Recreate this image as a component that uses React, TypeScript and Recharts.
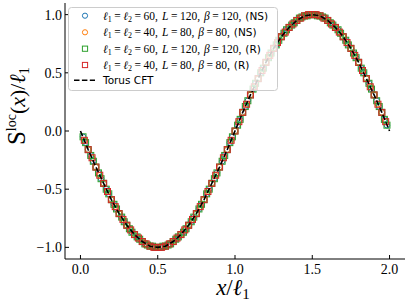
import React from "react";
import { ScatterChart, Scatter, XAxis, YAxis } from "recharts";

// axis ticks
const X_TICKS = [0, 0.5, 1, 1.5, 2];
const Y_TICKS = [-1, -0.5, 0, 0.5, 1];

// S^loc(x)/l1, site j = 1..2*l-1 (x/l1 = j/l)
const S_L60 = [
  -0.05, -0.1, -0.16, -0.21, -0.26, -0.31, -0.36, -0.41, -0.45, -0.5,
  -0.54, -0.59, -0.63, -0.67, -0.71, -0.74, -0.78, -0.81, -0.84, -0.87,
  -0.89, -0.91, -0.93, -0.95, -0.97, -0.98, -0.99, -0.99, -1.0, -1.0,
  -1.0, -0.99, -0.99, -0.98, -0.97, -0.95, -0.93, -0.91, -0.89, -0.87,
  -0.84, -0.81, -0.78, -0.74, -0.71, -0.67, -0.63, -0.59, -0.54, -0.5,
  -0.45, -0.41, -0.36, -0.31, -0.26, -0.21, -0.16, -0.1, -0.05, 0.0,
  0.05, 0.1, 0.16, 0.21, 0.26, 0.31, 0.36, 0.41, 0.45, 0.5,
  0.54, 0.59, 0.63, 0.67, 0.71, 0.74, 0.78, 0.81, 0.84, 0.87,
  0.89, 0.91, 0.93, 0.95, 0.97, 0.98, 0.99, 0.99, 1.0, 1.0,
  1.0, 0.99, 0.99, 0.98, 0.97, 0.95, 0.93, 0.91, 0.89, 0.87,
  0.84, 0.81, 0.78, 0.74, 0.71, 0.67, 0.63, 0.59, 0.54, 0.5,
  0.45, 0.41, 0.36, 0.31, 0.26, 0.21, 0.16, 0.1, 0.05,
];

const S_L40 = [
  -0.08, -0.16, -0.23, -0.31, -0.38, -0.45, -0.52, -0.59, -0.65, -0.71,
  -0.76, -0.81, -0.85, -0.89, -0.92, -0.95, -0.97, -0.99, -1.0, -1.0,
  -1.0, -0.99, -0.97, -0.95, -0.92, -0.89, -0.85, -0.81, -0.76, -0.71,
  -0.65, -0.59, -0.52, -0.45, -0.38, -0.31, -0.23, -0.16, -0.08, 0.0,
  0.08, 0.16, 0.23, 0.31, 0.38, 0.45, 0.52, 0.59, 0.65, 0.71,
  0.76, 0.81, 0.85, 0.89, 0.92, 0.95, 0.97, 0.99, 1.0, 1.0,
  1.0, 0.99, 0.97, 0.95, 0.92, 0.89, 0.85, 0.81, 0.76, 0.71,
  0.65, 0.59, 0.52, 0.45, 0.38, 0.31, 0.23, 0.16, 0.08,
];

// torus CFT curve
const CFT_X = [
  0, 0.05, 0.1, 0.15, 0.2, 0.25, 0.3, 0.35, 0.4, 0.45, 0.5, 0.55, 0.6, 0.65,
  0.7, 0.75, 0.8, 0.85, 0.9, 0.95, 1.0, 1.05, 1.1, 1.15, 1.2, 1.25, 1.3, 1.35,
  1.4, 1.45, 1.5, 1.55, 1.6, 1.65, 1.7, 1.75, 1.8, 1.85, 1.9, 1.95, 2.0,
];
const CFT_Y = [
  0, -0.16, -0.31, -0.45, -0.59, -0.71, -0.81, -0.89, -0.95, -0.99, -1.0,
  -0.99, -0.95, -0.89, -0.81, -0.71, -0.59, -0.45, -0.31, -0.16, 0, 0.16,
  0.31, 0.45, 0.59, 0.71, 0.81, 0.89, 0.95, 0.99, 1.0, 0.99, 0.95, 0.89,
  0.81, 0.71, 0.59, 0.45, 0.31, 0.16, 0,
];

const COLORS = ["#1f77b4", "#ff7f0e", "#2ca02c", "#d62728"];

const sites = (vals: number[], l: number) =>
  vals.map((y, i) => ({ x: (i + 1) / l, y }));

const ns60 = sites(S_L60, 60);
const ns40 = sites(S_L40, 40);
const r60 = sites(S_L60, 60);
const r40 = sites(S_L40, 40);
const cft = CFT_X.map((x, i) => ({ x, y: CFT_Y[i] }));

const fmt = (v: number) => (v < 0 ? "\u2212" + Math.abs(v).toFixed(1) : v.toFixed(1));

const circle = (color: string) => (p: any) =>
  <circle cx={p.cx} cy={p.cy} r={2.8} fill="none" stroke={color} strokeWidth={1} />;
const square = (color: string) => (p: any) =>
  <rect x={p.cx - 3} y={p.cy - 3} width={6} height={6} fill="none" stroke={color} strokeWidth={1} />;

const SERIF = "'Liberation Serif', 'DejaVu Serif', serif";
const SANS = "'DejaVu Sans', sans-serif";

const legendRows = [
  { l: "60", L: "120", b: "120", tag: "(NS)", mark: "c", color: COLORS[0] },
  { l: "40", L: "80", b: "80", tag: "(NS)", mark: "c", color: COLORS[1] },
  { l: "60", L: "120", b: "120", tag: "(R)", mark: "s", color: COLORS[2] },
  { l: "40", L: "80", b: "80", tag: "(R)", mark: "s", color: COLORS[3] },
];

// "=" with a bit more room, like TeX math spacing
const Eq = () => <tspan dx={2.5}>=</tspan>;

function Overlay() {
  const rowY = [15.7, 32.3, 48.7, 65];
  return (
    <svg width={407} height={305} style={{ position: "absolute", left: 0, top: 0, pointerEvents: "none" }}>
      <rect x={68.5} y={7.5} width={209} height={83} rx={3} fill="rgba(255,255,255,0.8)" stroke="#cccccc" />
      {legendRows.map((r, i) => (
        <g key={i}>
          {r.mark === "c" ? (
            <circle cx={85} cy={rowY[i]} r={2.6} fill="none" stroke={r.color} />
          ) : (
            <rect x={82.4} y={rowY[i] - 2.6} width={5.2} height={5.2} fill="none" stroke={r.color} />
          )}
          <text x={103} y={rowY[i] + 3.8} fontFamily={SERIF} fontSize={11.5} fill="#000">
            <tspan fontStyle="italic">ℓ</tspan>
            <tspan fontSize={8} dy={2.2}>1</tspan>
            <tspan dy={-2.2} dx={2.5}>=</tspan>
            <tspan dx={2.5} fontStyle="italic">ℓ</tspan>
            <tspan fontSize={8} dy={2.2}>2</tspan>
            <tspan dy={-2.2} dx={2.5}>=</tspan>
            <tspan dx={2.5}>{r.l},</tspan>
            <tspan dx={4} fontStyle="italic">L</tspan>
            <Eq />
            <tspan dx={2.5}>{r.L},</tspan>
            <tspan dx={4} fontStyle="italic">β</tspan>
            <Eq />
            <tspan dx={2.5}>{r.b},</tspan>
            <tspan dx={4} fontFamily={SANS} fontSize={10.5}>{r.tag}</tspan>
          </text>
        </g>
      ))}
      <line x1={74} x2={95} y1={80.3} y2={80.3} stroke="#000" strokeWidth={1.6} strokeDasharray="5.5 2.4" />
      <text x={103} y={84.2} fontFamily={SANS} fontSize={10.5} fill="#000">Torus CFT</text>

      <text x={233} y={295} textAnchor="middle" fontFamily={SERIF} fontSize={23} fill="#000">
        <tspan fontStyle="italic">x</tspan>
        <tspan>/</tspan>
        <tspan fontStyle="italic">ℓ</tspan>
        <tspan fontSize={15} dy={4}>1</tspan>
      </text>
      <text transform="translate(25,106) rotate(-90)" textAnchor="middle" fontFamily={SERIF} fontSize={22} fill="#000">
        <tspan fontSize={25}>S</tspan>
        <tspan fontSize={14} dy={-9}>loc</tspan>
        <tspan dy={9}>(</tspan>
        <tspan fontStyle="italic">x</tspan>
        <tspan>)/</tspan>
        <tspan fontStyle="italic">ℓ</tspan>
        <tspan fontSize={15} dy={4}>1</tspan>
      </text>
    </svg>
  );
}

export default function App() {
  const tickFont = { fill: "#000", fontSize: 14, fontFamily: SERIF };
  return (
    <div style={{ position: "absolute", left: 0, top: 0, width: 407, height: 305, background: "#fff" }}>
      <ScatterChart width={407} height={305} margin={{ top: 3, right: 2, bottom: 0, left: 0 }}>
        <XAxis xAxisId="b" type="number" dataKey="x" domain={[-0.1, 2.1]} ticks={X_TICKS}
          tickFormatter={fmt} height={46} tickSize={-4} tickMargin={9} tick={tickFont}
          stroke="#000" allowDataOverflow />
        <XAxis xAxisId="t" orientation="top" type="number" dataKey="x" domain={[-0.1, 2.1]}
          ticks={X_TICKS} height={0} tickSize={-4} tick={false} stroke="#000" allowDataOverflow />
        <YAxis yAxisId="l" type="number" dataKey="y" domain={[-1.1, 1.1]} ticks={Y_TICKS}
          tickFormatter={fmt} width={65} tickSize={-4} tickMargin={7} tick={tickFont}
          stroke="#000" allowDataOverflow />
        <YAxis yAxisId="r" orientation="right" type="number" dataKey="y" domain={[-1.1, 1.1]}
          ticks={Y_TICKS} width={0} tickSize={-4} tick={false} stroke="#000" allowDataOverflow />
        <Scatter xAxisId="b" yAxisId="l" data={ns60} shape={circle(COLORS[0])} isAnimationActive={false} />
        <Scatter xAxisId="b" yAxisId="l" data={ns40} shape={circle(COLORS[1])} isAnimationActive={false} />
        <Scatter xAxisId="b" yAxisId="l" data={r60} shape={square(COLORS[2])} isAnimationActive={false} />
        <Scatter xAxisId="b" yAxisId="l" data={r40} shape={square(COLORS[3])} isAnimationActive={false} />
        <Scatter xAxisId="b" yAxisId="l" data={cft} shape={() => <g />} lineType="joint"
          line={{ stroke: "#000", strokeWidth: 1.6, strokeDasharray: "5.5 2.4" }} isAnimationActive={false} />
      </ScatterChart>
      <Overlay />
    </div>
  );
}
